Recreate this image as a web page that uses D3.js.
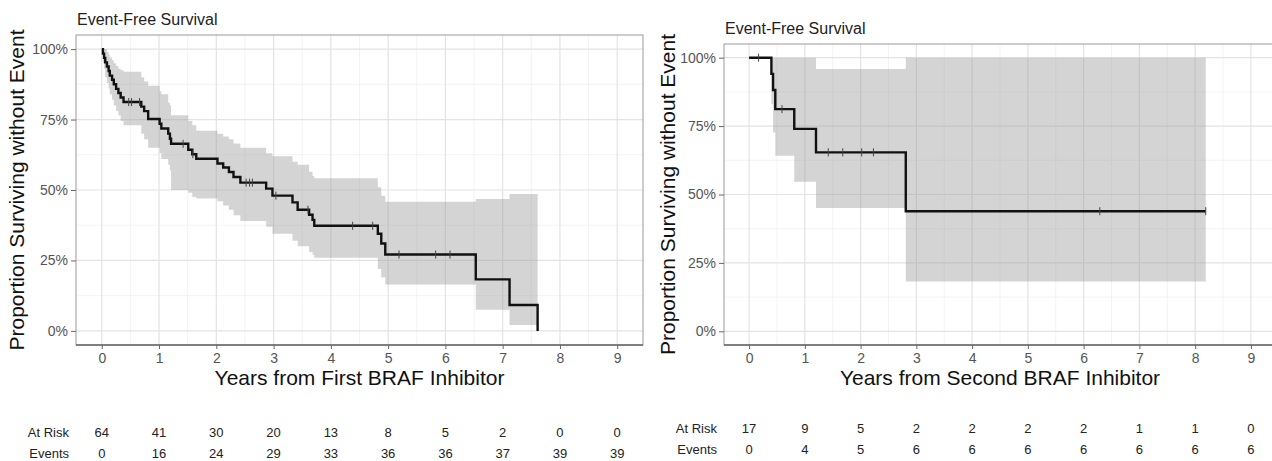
<!DOCTYPE html>
<html>
<head>
<meta charset="utf-8">
<script src="https://cdn.jsdelivr.net/npm/d3@7"></script>
<style>
  body { margin: 0; background: #fff; }
  text { font-family: Arial, "Liberation Sans", sans-serif; }
</style>
</head>
<body>
<script>
'use strict';

const width = 1272;
const height = 461;

// shared axes
const yearTicks = [0, 1, 2, 3, 4, 5, 6, 7, 8, 9];
const survTicks = [0, 0.25, 0.5, 0.75, 1];

// first BRAF inhibitor: KM steps
const firstTime  = [0, 0.02, 0.04, 0.06, 0.09, 0.12, 0.14, 0.18, 0.21, 0.25, 0.29, 0.33, 0.38,
                    0.69, 0.74, 0.81, 1.01, 1.04, 1.16, 1.19, 1.21, 1.51, 1.58, 1.65,
                    2.02, 2.12, 2.22, 2.30, 2.42, 2.87, 2.98, 3.33, 3.42, 3.62, 3.68, 3.71,
                    4.82, 4.88, 4.95, 6.53, 7.12, 7.61];
const firstSurv  = [1, 0.984, 0.969, 0.953, 0.938, 0.922, 0.906, 0.891, 0.875, 0.859, 0.844, 0.828, 0.812,
                    0.796, 0.780, 0.752, 0.735, 0.718, 0.700, 0.682, 0.664, 0.643, 0.627, 0.611,
                    0.594, 0.580, 0.564, 0.546, 0.526, 0.505, 0.480, 0.456, 0.430, 0.412, 0.394, 0.373,
                    0.345, 0.310, 0.271, 0.183, 0.092, 0];
const firstLower = [1, 0.95, 0.93, 0.90, 0.88, 0.86, 0.84, 0.82, 0.80, 0.78, 0.765, 0.745, 0.73,
                    0.70, 0.68, 0.65, 0.63, 0.61, 0.59, 0.57, 0.50, 0.49, 0.475, 0.47,
                    0.46, 0.445, 0.43, 0.41, 0.39, 0.37, 0.345, 0.32, 0.30, 0.28, 0.27, 0.26,
                    0.22, 0.19, 0.165, 0.075, 0.021, 0.021];
const firstUpper = [1, 1, 1, 1, 0.99, 0.98, 0.97, 0.96, 0.95, 0.94, 0.93, 0.925, 0.92,
                    0.90, 0.885, 0.87, 0.85, 0.84, 0.81, 0.80, 0.765, 0.745, 0.73, 0.71,
                    0.70, 0.69, 0.68, 0.665, 0.65, 0.63, 0.62, 0.60, 0.59, 0.565, 0.55, 0.542,
                    0.51, 0.48, 0.458, 0.468, 0.486, 0.486];
const firstCensor = [0.47, 0.52, 0.66, 1.42, 1.59, 2.52, 2.58, 2.63, 3.04, 3.6, 4.38, 4.73, 5.19, 5.83, 6.08];
const firstAtRisk = [64, 41, 30, 20, 13, 8, 5, 2, 0, 0];
const firstEvents = [0, 16, 24, 29, 33, 36, 36, 37, 39, 39];

// second BRAF inhibitor
const secondTime  = [0, 0.40, 0.43, 0.47, 0.81, 1.20, 2.81, 8.19];
const secondSurv  = [1, 0.941, 0.882, 0.812, 0.740, 0.654, 0.439, 0.439];
const secondLower = [1, 0.83, 0.727, 0.642, 0.547, 0.451, 0.182, 0.182];
const secondUpper = [1, 1, 1, 1, 1, 0.959, 1, 1];
const secondCensor = [0.17, 0.59, 1.42, 1.68, 2.02, 2.23, 6.29, 8.19];
const secondAtRisk = [17, 9, 5, 2, 2, 2, 2, 1, 1, 0];
const secondEvents = [0, 4, 5, 6, 6, 6, 6, 6, 6, 6];

const svg = d3.select("body")
    .append("svg")
    .attr("width", width)
    .attr("height", height);

function drawPanel(p) {
    let x = d3.scaleLinear().domain([-0.45, 9.45]).range([p.x0, p.x1]);
    let y = d3.scaleLinear().domain([-0.05, 1.05]).range([p.y1, p.y0]);

    let g = svg.append("g");

    // background grid
    let minorX = d3.range(0.5, 9, 1);
    let minorY = [0.125, 0.375, 0.625, 0.875];
    g.selectAll(".mx").data(minorX).enter().append("line")
        .attr("x1", d => x(d)).attr("x2", d => x(d))
        .attr("y1", p.y0).attr("y2", p.y1)
        .attr("stroke", "#f0f0f0").attr("stroke-width", 0.8);
    g.selectAll(".my").data(minorY).enter().append("line")
        .attr("x1", p.x0).attr("x2", p.x1)
        .attr("y1", d => y(d)).attr("y2", d => y(d))
        .attr("stroke", "#f0f0f0").attr("stroke-width", 0.8);
    g.selectAll(".gx").data(yearTicks).enter().append("line")
        .attr("x1", d => x(d)).attr("x2", d => x(d))
        .attr("y1", p.y0).attr("y2", p.y1)
        .attr("stroke", "#e3e3e3").attr("stroke-width", 1.2);
    g.selectAll(".gy").data(survTicks).enter().append("line")
        .attr("x1", p.x0).attr("x2", p.x1)
        .attr("y1", d => y(d)).attr("y2", d => y(d))
        .attr("stroke", "#e3e3e3").attr("stroke-width", 1.2);

    let rows = p.time.map((t, i) => ({t: t, s: p.surv[i], lo: p.lower[i], hi: p.upper[i]}));

    // confidence band
    let band = d3.area()
        .curve(d3.curveStepAfter)
        .x(d => x(d.t))
        .y0(d => y(d.lo))
        .y1(d => y(d.hi));
    g.append("path")
        .attr("d", band(rows))
        .attr("fill", "#999")
        .attr("fill-opacity", 0.42);

    // survival curve
    let line = d3.line()
        .curve(d3.curveStepAfter)
        .x(d => x(d.t))
        .y(d => y(d.s));
    g.append("path")
        .attr("d", line(rows))
        .attr("fill", "none")
        .attr("stroke", "#111")
        .attr("stroke-width", 2.4);

    // censor marks
    let survAt = t => p.surv[Math.max(0, d3.bisectRight(p.time, t) - 1)];
    g.selectAll(".cens").data(p.censor).enter().append("line")
        .attr("x1", d => x(d)).attr("x2", d => x(d))
        .attr("y1", d => y(survAt(d)) - 4).attr("y2", d => y(survAt(d)) + 4)
        .attr("stroke", "#444").attr("stroke-width", 1);

    // panel border
    g.append("rect")
        .attr("x", p.x0).attr("y", p.y0)
        .attr("width", p.x1 - p.x0).attr("height", p.y1 - p.y0)
        .attr("fill", "none").attr("stroke", "#9a9a9a").attr("stroke-width", 1);
    g.append("line")
        .attr("x1", p.x0).attr("x2", p.x1)
        .attr("y1", p.y1).attr("y2", p.y1)
        .attr("stroke", "#666").attr("stroke-width", 1.6);

    // axes
    let xAxis = g.append("g")
        .attr("transform", "translate(0," + p.y1 + ")")
        .call(d3.axisBottom(x).tickValues(yearTicks).tickSize(4).tickPadding(4));
    let yAxis = g.append("g")
        .attr("transform", "translate(" + p.x0 + ",0)")
        .call(d3.axisLeft(y).tickValues(survTicks).tickFormat(d3.format(".0%")).tickSize(5).tickPadding(3));
    [xAxis, yAxis].forEach(a => {
        a.select(".domain").remove();
        a.selectAll("line").attr("stroke", "#666");
        a.selectAll("text").attr("fill", "#555").style("font-size", "14px");
    });

    // titles
    g.append("text")
        .attr("x", p.x0 + 1).attr("y", p.y0 - 10)
        .attr("fill", "#222").style("font-size", "16px")
        .text("Event-Free Survival");
    g.append("text")
        .attr("x", (p.x0 + p.x1) / 2).attr("y", 385)
        .attr("text-anchor", "middle")
        .attr("fill", "#111").style("font-size", "21px")
        .text(p.xTitle);
    g.append("text")
        .attr("transform", "translate(" + p.yTitleX + "," + ((p.y0 + p.y1) / 2) + ") rotate(-90)")
        .attr("text-anchor", "middle")
        .attr("fill", "#111").style("font-size", "21px")
        .text("Proportion Surviving without Event");

    // number at risk table
    let table = [["At Risk", p.atRisk, p.riskY], ["Events", p.events, p.riskY + 21]];
    table.forEach(r => {
        g.append("text")
            .attr("x", p.x0 - 7).attr("y", r[2])
            .attr("text-anchor", "end")
            .attr("fill", "#222").style("font-size", "13px")
            .text(r[0]);
        g.selectAll(null).data(r[1]).enter().append("text")
            .attr("x", (d, i) => x(yearTicks[i])).attr("y", r[2])
            .attr("text-anchor", "middle")
            .attr("fill", "#222").style("font-size", "13px")
            .text(d => d);
    });
}

drawPanel({
    x0: 76, x1: 643, y0: 35, y1: 345, yTitleX: 24, riskY: 437,
    time: firstTime, surv: firstSurv, lower: firstLower, upper: firstUpper,
    censor: firstCensor, atRisk: firstAtRisk, events: firstEvents,
    xTitle: "Years from First BRAF Inhibitor"
});

drawPanel({
    x0: 724, x1: 1276, y0: 44, y1: 345, yTitleX: 675, riskY: 433,
    time: secondTime, surv: secondSurv, lower: secondLower, upper: secondUpper,
    censor: secondCensor, atRisk: secondAtRisk, events: secondEvents,
    xTitle: "Years from Second BRAF Inhibitor"
});
</script>
</body>
</html>
